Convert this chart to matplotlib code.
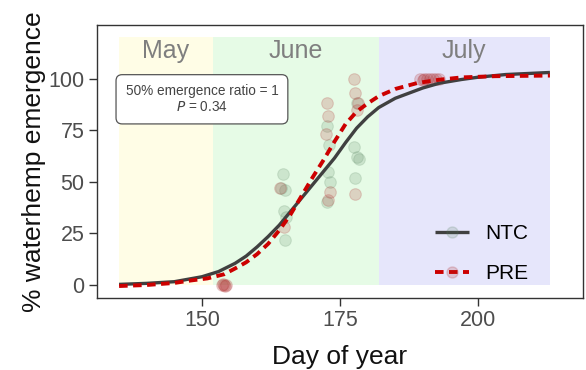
import numpy as np
import matplotlib.pyplot as plt
from matplotlib.lines import Line2D

plt.rcParams['font.family'] = ['Liberation Sans', 'DejaVu Sans']

# fitted curves
ntc_curve_day = [135, 140, 145, 150, 153, 156, 158, 160, 162, 164, 166, 168, 170, 172, 174,
                 176, 178, 180, 182, 185, 188, 190, 193, 197, 200, 205, 213]
ntc_curve_pct = [0.3, 0.8, 1.6, 4.0, 6.5, 10.5, 14, 18.5, 23.5, 29, 35.5, 42, 48.5, 55, 61.5,
                 69, 76, 81.5, 86, 90.5, 93.5, 95.5, 97.8, 99.6, 100.7, 102, 103]
pre_curve_day = [135, 140, 145, 148, 151, 154, 156, 158, 160, 162, 164, 166, 168, 170, 172,
                 174, 176, 178, 180, 182, 185, 189, 193, 197, 203, 213]
pre_curve_pct = [-0.5, 0.0, 1.0, 2.2, 3.2, 5.2, 8.0, 11, 15, 20, 26.5, 34, 43, 52, 60.5,
                 69.5, 78, 84, 88, 91.5, 95, 97.9, 99.5, 100.6, 101.2, 101.5]

# observed points
ntc_day = [164.6, 165.0, 164.8, 165.2, 165.0, 164.4, 172.6, 172.9, 173.1, 172.7, 173.0,
           177.6, 178.0, 178.4, 177.8, 178.1]
ntc_pct = [54, 46, 36, 33, 22, 47, 77, 55, 50, 40, 68, 67, 62, 61, 52, 88]
pre_day = [153.6, 154.0, 154.3, 153.8, 154.1, 164.2, 164.9, 172.6, 172.8, 172.5, 173.2, 172.9,
           177.6, 177.8, 178.2, 178.0, 177.7, 189.5, 190.2, 190.8, 191.3, 191.9, 192.4, 192.9, 190.0]
pre_pct = [0, 0, 0, 0.5, -0.5, 47, 28, 88, 82, 73, 45, 41,
           100, 93, 88, 85, 44, 100, 100, 100, 100, 100, 100, 100, 99.5]

months = ['May', 'June', 'July']
month_start = [135, 152, 182]
month_end = [152, 182, 213]
month_colors = ['#fffde6', '#e6fbe6', '#e6e6fb']

fig = plt.figure(figsize=(5.86, 3.70), dpi=100)
ax = fig.add_axes([0.1655, 0.1946, 0.8295, 0.7378])

for name, s, e, c in zip(months, month_start, month_end, month_colors):
    ax.fill_between([s, e], 0, 120, color=c, lw=0, zorder=0)
    ax.text((s + e) / 2, 113.5, name, ha='center', va='center', fontsize=18, color='#7f7f7f')

ax.scatter(ntc_day, ntc_pct, s=70, color='#4d7a55', alpha=0.17, lw=0.8, zorder=2)
ax.scatter(pre_day, pre_pct, s=70, color='#b03030', alpha=0.2, lw=0.8, zorder=2)

l1, = ax.plot(ntc_curve_day, ntc_curve_pct, color='#404040', lw=2.4, zorder=3,
              solid_capstyle='butt')
l2, = ax.plot(pre_curve_day, pre_curve_pct, color='#cc0000', lw=2.8, ls=(0, (2.2, 1.4)), zorder=4)

ax.text(150, 90, '50% emergence ratio = 1\n$P$ = 0.34', ha='center', va='center',
        fontsize=9.8, color='#444444', linespacing=1.2,
        bbox=dict(boxstyle='round,pad=0.7,rounding_size=0.45', fc='white', ec='#555555', lw=0.9))

p1 = Line2D([], [], ls='', marker='o', ms=8, color='#4d7a55', alpha=0.17)
p2 = Line2D([], [], ls='', marker='o', ms=8, color='#b03030', alpha=0.2)
ax.legend([(l1, p1), (l2, p2)], ['NTC', 'PRE'], loc='lower right', frameon=False,
          fontsize=15, handlelength=1.6, labelspacing=1.0, borderaxespad=0,
          bbox_to_anchor=(0.905, 0.025))

ax.set_xlim(131, 219)
ax.set_ylim(-6.3, 126)
ax.set_xticks([150, 175, 200])
ax.set_yticks([0, 25, 50, 75, 100])
ax.tick_params(labelsize=15.5, colors='#333333', labelcolor='#4d4d4d', length=5.5, width=1)
for sp in ax.spines.values():
    sp.set_color('#333333')
    sp.set_linewidth(1)
ax.set_xlabel('Day of year', fontsize=19, color='#111111', labelpad=10)
ax.set_ylabel('% waterhemp emergence', fontsize=19, color='#111111', labelpad=2)

fig.savefig('out.png', dpi=100)
